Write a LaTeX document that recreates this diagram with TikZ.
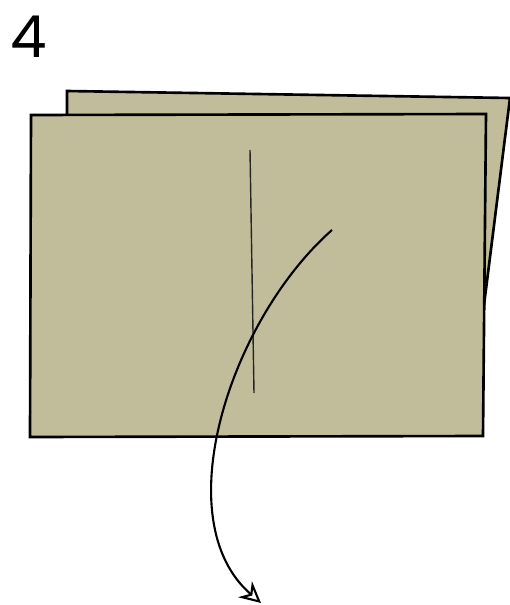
\documentclass[tikz,border=0pt]{standalone}
\usepackage{fontspec}
\usepackage{tikz}
\usetikzlibrary{arrows.meta}
\definecolor{paper}{RGB}{193,188,153}

\begin{document}
\begin{tikzpicture}[x=0.02cm, y=-0.02cm,
	sheet/.style={fill=paper, draw=black, line width=1.5pt, line join=miter},
	crease/.style={draw=black!85, line width=0.8pt},
	move/.style={line width=1.2pt, -{Stealth[open, length=12pt, width=12pt, inset=4pt]}}]
	\useasboundingbox (0, 0) rectangle (510, 605);
	% back sheet
	\draw [sheet] (67, 115) -- (67, 91) -- (510, 98) -- (484, 305);
	% front sheet
	\draw [sheet] (31, 115) -- (486, 114) -- (483, 436) -- (30, 437) -- cycle;
	\draw [crease] (250, 150) -- (254, 393);
	\coordinate (start) at (332, 230);
	\coordinate (end) at (261, 603);
	\draw [move] (start) .. controls (230, 320) and (165, 520) .. (end);
	\node (step) at (29, 37) {\fontspec{Poppins}\fontsize{33}{33}\selectfont 4};
\end{tikzpicture}
\end{document}
